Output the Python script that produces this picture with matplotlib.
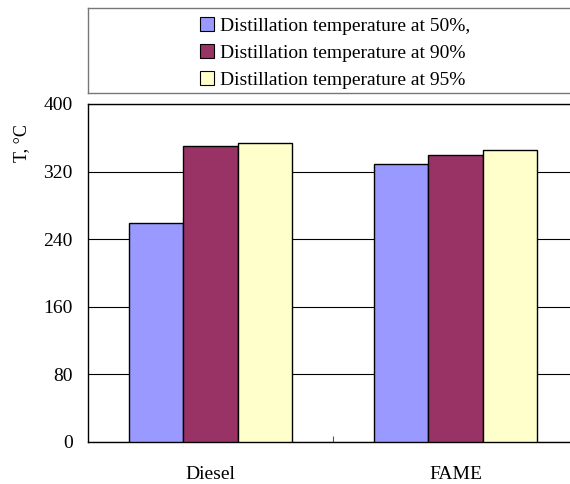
import matplotlib.pyplot as plt
import numpy as np
from matplotlib.patches import Patch

# data
fuels = ["Diesel", "FAME"]
series_names = ["Distillation temperature at 50%,",
                "Distillation temperature at 90%",
                "Distillation temperature at 95%"]
t50 = [259, 329]
t90 = [350, 340]
t95 = [354, 345]
y_ticks = [0, 80, 160, 240, 320, 400]

colors = ["#9999FF", "#993366", "#FFFFCC"]

plt.rcParams['font.family'] = ['Liberation Serif', 'DejaVu Serif']

W, H = 570, 484
fig = plt.figure(figsize=(W / 100, H / 100), dpi=100)

# main axes (right edge runs past the figure, as in the reference)
left, right, top, bottom = 88, 578, 104, 442
ax = fig.add_axes([left / W, 1 - bottom / H, (right - left) / W, (bottom - top) / H])

x = np.arange(len(fuels))
w = 0.223
for i, vals in enumerate([t50, t90, t95]):
    ax.bar(x + (i - 1) * w, vals, width=w, color=colors[i],
           edgecolor="black", linewidth=1.0, zorder=3)

ax.set_xlim(-0.5, 1.5)
ax.set_ylim(0, 400)
ax.set_yticks(y_ticks)
ax.yaxis.grid(True, color="black", linewidth=0.8, zorder=0)
ax.set_axisbelow(True)

ax.set_xticks(x)
ax.set_xticklabels(fuels, fontsize=14)
ax.set_xticks([0.5], minor=True)
ax.tick_params(axis="x", which="major", length=0, pad=17)
ax.tick_params(axis="x", which="minor", direction="in", length=4, width=0.8, color="#555555")
ax.tick_params(axis="y", length=0, pad=11, labelsize=14)

for s in ["left", "bottom", "top", "right"]:
    ax.spines[s].set_linewidth(1.0)
    ax.spines[s].set_color("black")

fig.text(22 / W, 1 - 143 / H, "T, °C", rotation=90, ha="center", va="center", fontsize=13)

# legend box on top
lt, lb = 8, 93
lax = fig.add_axes([left / W, 1 - lb / H, (right - left) / W, (lb - lt) / H])
lax.set_xticks([])
lax.set_yticks([])
for s in lax.spines.values():
    s.set_color("#777777")
    s.set_linewidth(1.0)

handles = [Patch(facecolor=c, edgecolor="black", linewidth=0.8) for c in colors]
lax.legend(handles, series_names, loc="center left",
           bbox_to_anchor=((200 - left) / (right - left), 0.47),
           frameon=False, fontsize=14, handlelength=0.7, handleheight=0.7,
           handletextpad=0.35, labelspacing=0.48, borderpad=0, borderaxespad=0)

fig.savefig("out.png", dpi=100)
